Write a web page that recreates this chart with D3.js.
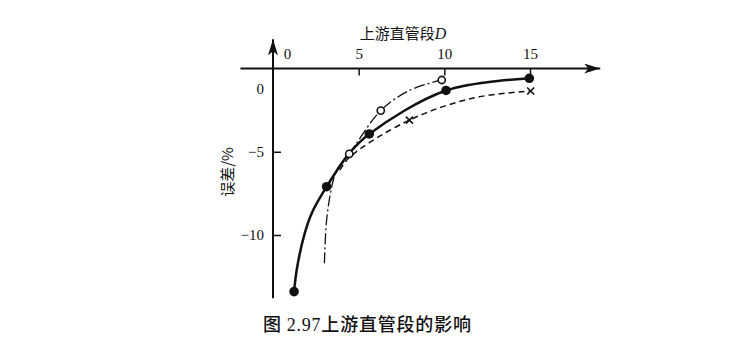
<!DOCTYPE html>
<html lang="zh">
<head>
<meta charset="UTF-8">
<title>上游直管段的影响</title>
<style>
  body { margin: 0; background: #fff; }
  svg { display: block; }
  .tick text { font-family: "Liberation Serif", "DejaVu Serif", serif; font-size: 15px; fill: #111; }
  .cjk { font-family: "Noto Sans CJK SC", sans-serif; fill: #111; }
</style>
</head>
<body>
<script src="https://d3js.org/d3.v7.min.js"></script>
<script>
// 实线 (实心圆)
const solidCurve = [[1.23, -13.4], [1.4, -12.0], [1.85, -9.9], [2.3, -8.6], [3.13, -7.1], [4.47, -5.07], [5.62, -3.93], [10.1, -1.32], [14.96, -0.59]]
const solidMarks = [[1.23, -13.4], [3.13, -7.1], [5.62, -3.93], [10.1, -1.32], [14.96, -0.59]]
// 点划线 (空心圆)
const dashDotCurve = [[3.0, -11.7], [3.13, -9.1], [3.43, -7.1], [3.72, -6.1], [4.45, -5.13], [6.29, -2.53], [8.0, -1.3], [9.85, -0.69]]
const openMarks = [[4.45, -5.13], [6.29, -2.53], [9.85, -0.69]]
// 虚线 (叉)
const dashedCurve = [[3.9, -6.1], [4.5, -5.3], [7.96, -3.1], [11.7, -1.77], [15.04, -1.35]]
const crossMarks = [[7.96, -3.1], [15.04, -1.35]]

const xTicks = [0, 5, 10, 15]
const yTicks = [0, -5, -10]

const width = 750, height = 350

const svg = d3.select('body').append('svg')
  .attr('width', width)
  .attr('height', height)

const x = d3.scaleLinear().domain([0, 15]).range([273, 530])
const y = d3.scaleLinear().domain([0, -10]).range([68.5, 235])

// 箭头
const defs = svg.append('defs')
defs.append('marker')
  .attr('id', 'arrow')
  .attr('viewBox', '0 0 16 10')
  .attr('refX', 16).attr('refY', 5)
  .attr('markerWidth', 16).attr('markerHeight', 10)
  .attr('markerUnits', 'userSpaceOnUse')
  .attr('orient', 'auto')
  .append('path')
  .attr('d', 'M0,0 L16,5 L0,10 L4,5 Z')
  .attr('fill', '#111')

// 坐标轴线
svg.append('line')
  .attr('x1', x(-1.9)).attr('x2', x(19.1))
  .attr('y1', y(0)).attr('y2', y(0))
  .attr('stroke', '#111').attr('stroke-width', 2)
  .attr('marker-end', 'url(#arrow)')

svg.append('line')
  .attr('x1', x(0)).attr('x2', x(0))
  .attr('y1', y(-13.8)).attr('y2', y(1.75))
  .attr('stroke', '#111').attr('stroke-width', 2)
  .attr('marker-end', 'url(#arrow)')

// x 轴刻度 (标签在上，刻度线向下)
svg.append('g')
  .attr('transform', `translate(0,${y(0)})`)
  .call(d3.axisTop(x).tickValues(xTicks).tickSize(-7).tickPadding(10).tickFormat(d3.format('d')))
  .call(g => g.select('.domain').remove())
  .call(g => g.selectAll('.tick line').attr('stroke', '#111').attr('stroke-width', 1.5)
    .attr('display', d => d === 0 ? 'none' : null))
  .call(g => g.selectAll('.tick text').attr('dx', d => d === 0 ? 14 : 0))

// y 轴刻度
svg.append('g')
  .attr('transform', `translate(${x(0)},0)`)
  .call(d3.axisLeft(y).tickValues(yTicks).tickSize(-8).tickPadding(9).tickFormat(d => d === 0 ? '0' : '\u2212' + Math.abs(d)))
  .call(g => g.select('.domain').remove())
  .call(g => g.selectAll('.tick line').attr('stroke', '#111').attr('stroke-width', 1.5)
    .attr('display', d => d === 0 ? 'none' : null))
  .call(g => g.selectAll('.tick text').attr('dy', d => d === 0 ? '1.65em' : '0.32em'))

// 轴标题
const xt = svg.append('text')
  .attr('class', 'cjk')
  .attr('x', 403).attr('y', 39)
  .attr('text-anchor', 'middle')
  .style('font-size', '15px')
xt.append('tspan').text('上游直管段')
xt.append('tspan')
  .style('font-family', '"Liberation Serif", serif')
  .style('font-style', 'italic')
  .style('font-size', '16px')
  .text('D')

svg.append('text')
  .attr('class', 'cjk')
  .attr('transform', `translate(233,172) rotate(-90)`)
  .attr('text-anchor', 'middle')
  .style('font-size', '15px')
  .text('误差/%')

// 曲线
const line = d3.line()
  .x(d => x(d[0]))
  .y(d => y(d[1]))
  .curve(d3.curveCatmullRom.alpha(0.5))

svg.append('path')
  .datum(solidCurve)
  .attr('d', line)
  .attr('fill', 'none').attr('stroke', '#111').attr('stroke-width', 2.5)

svg.append('path')
  .datum(dashDotCurve)
  .attr('d', line)
  .attr('fill', 'none').attr('stroke', '#111').attr('stroke-width', 1.3)
  .attr('stroke-dasharray', '11,3,2,3')

svg.append('path')
  .datum(dashedCurve)
  .attr('d', line)
  .attr('fill', 'none').attr('stroke', '#111').attr('stroke-width', 1.5)
  .attr('stroke-dasharray', '6,4')

// 标记
svg.selectAll('.solid-mark')
  .data(solidMarks)
  .join('circle')
  .attr('class', 'solid-mark')
  .attr('cx', d => x(d[0])).attr('cy', d => y(d[1]))
  .attr('r', 4.8)
  .attr('fill', '#111')

svg.selectAll('.open-mark')
  .data(openMarks)
  .join('circle')
  .attr('class', 'open-mark')
  .attr('cx', d => x(d[0])).attr('cy', d => y(d[1]))
  .attr('r', 3.6)
  .attr('fill', '#fff').attr('stroke', '#111').attr('stroke-width', 1.6)

svg.selectAll('.cross-mark')
  .data(crossMarks)
  .join('path')
  .attr('class', 'cross-mark')
  .attr('d', d => {
    const cx = x(d[0]), cy = y(d[1]), s = 3.5
    return `M${cx - s},${cy - s}L${cx + s},${cy + s}M${cx - s},${cy + s}L${cx + s},${cy - s}`
  })
  .attr('stroke', '#111').attr('stroke-width', 1.6)

// 图题
const cap = svg.append('text')
  .attr('class', 'cjk')
  .attr('x', 263).attr('y', 331)
  .style('font-size', '18px')
  .style('font-weight', 500)
  .style('letter-spacing', '0.8px')
cap.append('tspan').text('图 ')
cap.append('tspan')
  .style('font-family', '"Liberation Serif", serif')
  .style('font-weight', 400)
  .text('2.97')
cap.append('tspan').text('上游直管段的影响')
</script>
</body>
</html>
